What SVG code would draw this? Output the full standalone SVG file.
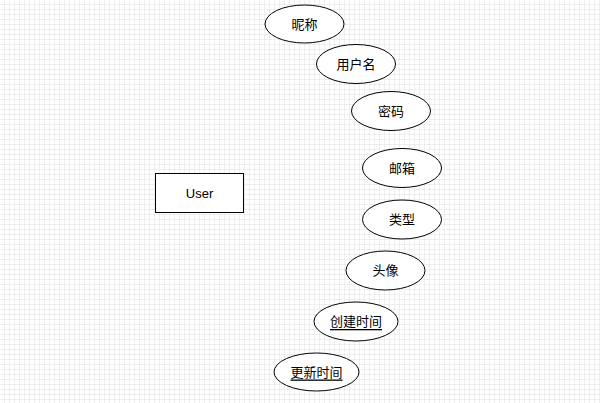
<svg xmlns="http://www.w3.org/2000/svg" width="600" height="403" viewBox="0 0 600 403">
<style>
.shape{fill:#ffffff;stroke:#000000;stroke-width:1}
.lbl{font-family:"Liberation Sans","Noto Sans CJK SC",sans-serif;font-size:13px;fill:#000000;text-anchor:middle;dominant-baseline:central}
.u{text-decoration:underline}
</style>
<defs>
<pattern id="grid" width="5" height="5" patternUnits="userSpaceOnUse">
<path d="M5 0V5M0 5H5" fill="none" stroke="#dedede" stroke-width="1"/>
</pattern>
</defs>
<rect width="600" height="403" fill="#ffffff"/>
<rect width="600" height="403" fill="url(#grid)"/>
<g id="connectors"></g>
<g id="user"><rect class="shape" x="155.5" y="173.5" width="88" height="39"/><text class="lbl" x="199.5" y="193">User</text></g>
<g id="nickname"><ellipse class="shape" cx="304.5" cy="24" rx="39.5" ry="19"/><text class="lbl" x="304.5" y="24">昵称</text></g>
<g id="username"><ellipse class="shape" cx="356" cy="64" rx="39.5" ry="19.5"/><text class="lbl" x="356" y="64">用户名</text></g>
<g id="password"><ellipse class="shape" cx="391" cy="111" rx="39.5" ry="19.5"/><text class="lbl" x="391" y="111">密码</text></g>
<g id="email"><ellipse class="shape" cx="402" cy="168" rx="39.5" ry="19.5"/><text class="lbl" x="402" y="168">邮箱</text></g>
<g id="type"><ellipse class="shape" cx="402" cy="219.5" rx="39.5" ry="19.5"/><text class="lbl" x="402" y="219.5">类型</text></g>
<g id="avatar"><ellipse class="shape" cx="385.5" cy="270.5" rx="39.5" ry="19.5"/><text class="lbl" x="385.5" y="270.5">头像</text></g>
<g id="created"><ellipse class="shape" cx="356" cy="321.5" rx="42" ry="19.5"/><text class="lbl u" x="356" y="321.5">创建时间</text></g>
<g id="updated"><ellipse class="shape" cx="316.5" cy="372" rx="42.5" ry="19"/><text class="lbl u" x="316.5" y="372">更新时间</text></g>
</svg>
